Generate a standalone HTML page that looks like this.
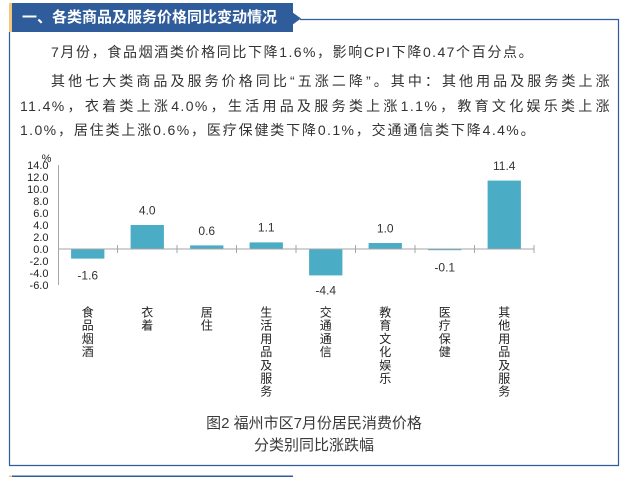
<!DOCTYPE html>
<html>
<head>
<meta charset="utf-8">
<style>
  html,body{margin:0;padding:0;background:#fff;}
  body{width:626px;height:477px;position:relative;overflow:hidden;
       font-family:"Liberation Sans","Noto Sans CJK SC",sans-serif;}
  .ln{position:absolute;font-size:14px;line-height:20px;height:20px;color:#333;
      white-space:nowrap;letter-spacing:1.4px;}
  .j{text-align:justify;text-align-last:justify;white-space:normal;overflow:hidden;}
  .cap{position:absolute;left:0;width:628px;text-align:center;font-size:15px;line-height:20px;color:#3a3a3a;}
</style>
</head>
<body>
<!-- header box -->
<div style="position:absolute;left:9px;top:3px;width:284px;height:29px;background:#2f5c9a;"></div>
<div style="position:absolute;left:9px;top:3px;width:3px;height:29px;background:#f6c67a;"></div>
<svg style="position:absolute;left:0;top:0" width="626" height="477">
  <polygon points="292,12 301,18.5 292,25" fill="#2f5c9a"/>
  <line x1="300" y1="19.5" x2="619" y2="19.5" stroke="#2f5c9a" stroke-width="1.2"/>
  <line x1="618.5" y1="19" x2="618.5" y2="466" stroke="#2f5c9a" stroke-width="1.2"/>
  <line x1="9.5" y1="32" x2="9.5" y2="466" stroke="#2f5c9a" stroke-width="1.2"/>
  <line x1="9" y1="465.5" x2="619" y2="465.5" stroke="#2f5c9a" stroke-width="1.2"/>
  <rect x="9" y="475.5" width="284" height="2" fill="#2f5c9a"/>
  <rect x="9" y="475.5" width="3" height="2" fill="#f6c67a"/>
</svg>
<div style="position:absolute;left:22px;top:7px;height:22px;line-height:22px;font-size:15px;font-weight:bold;color:#fff;white-space:nowrap;">一、各类商品及服务价格同比变动情况</div>

<!-- paragraph text -->
<div class="ln j" style="left:51px;top:42px;width:483px;">7月份，食品烟酒类价格同比下降1.6%，影响CPI下降0.47个百分点。</div>
<div class="ln j" style="left:51px;top:71px;width:560px;">其他七大类商品及服务价格同比“五涨二降”。其中：其他用品及服务类上涨</div>
<div class="ln j" style="left:20px;top:96px;width:591px;">11.4%，衣着类上涨4.0%，生活用品及服务类上涨1.1%，教育文化娱乐类上涨</div>
<div class="ln j" style="left:20px;top:120px;width:516px;">1.0%，居住类上涨0.6%，医疗保健类下降0.1%，交通通信类下降4.4%。</div>

<!-- chart -->
<svg style="position:absolute;left:0;top:0" width="626" height="477" font-family="Liberation Sans, Noto Sans CJK SC, sans-serif">
  <!-- y axis labels -->
  <g font-size="11" fill="#222" text-anchor="end">
    <text x="48.5" y="165" dy="0.36em">14.0</text>
    <text x="48.5" y="177" dy="0.36em">12.0</text>
    <text x="48.5" y="189" dy="0.36em">10.0</text>
    <text x="48.5" y="201" dy="0.36em">8.0</text>
    <text x="48.5" y="213" dy="0.36em">6.0</text>
    <text x="48.5" y="225" dy="0.36em">4.0</text>
    <text x="48.5" y="237" dy="0.36em">2.0</text>
    <text x="48.5" y="249" dy="0.36em">0.0</text>
    <text x="48.5" y="261" dy="0.36em">-2.0</text>
    <text x="48.5" y="273" dy="0.36em">-4.0</text>
    <text x="48.5" y="285" dy="0.36em">-6.0</text>
  </g>
  <text x="46.5" y="158" dy="0.36em" font-size="11" fill="#222" text-anchor="middle">%</text>

  <!-- bars -->
  <g fill="#4bacc6">
    <rect x="71.1" y="249" width="33.3" height="9.6"/>
    <rect x="130.6" y="225" width="33.3" height="24"/>
    <rect x="190.1" y="245.4" width="33.3" height="3.6"/>
    <rect x="249.6" y="242.4" width="33.3" height="6.6"/>
    <rect x="309.1" y="249" width="33.3" height="26.4"/>
    <rect x="368.6" y="243" width="33.3" height="6"/>
    <rect x="428.1" y="249" width="33.3" height="1.2"/>
    <rect x="487.6" y="180.6" width="33.3" height="68.4"/>
  </g>

  <!-- axes -->
  <line x1="58.5" y1="165" x2="58.5" y2="285" stroke="#a6a6a6" stroke-width="1"/>
  <line x1="58" y1="249" x2="534.5" y2="249" stroke="#a6a6a6" stroke-width="1"/>
  <g stroke="#a6a6a6" stroke-width="1">
    <line x1="117.5" y1="245" x2="117.5" y2="253"/>
    <line x1="177" y1="245" x2="177" y2="253"/>
    <line x1="236.5" y1="245" x2="236.5" y2="253"/>
    <line x1="296" y1="245" x2="296" y2="253"/>
    <line x1="355.5" y1="245" x2="355.5" y2="253"/>
    <line x1="415" y1="245" x2="415" y2="253"/>
    <line x1="474.5" y1="245" x2="474.5" y2="253"/>
    <line x1="534" y1="245" x2="534" y2="253"/>
  </g>

  <!-- data labels -->
  <g font-size="12" fill="#333" text-anchor="middle">
    <text x="87.75" y="275" dy="0.36em">-1.6</text>
    <text x="147.25" y="210" dy="0.36em">4.0</text>
    <text x="206.75" y="230.5" dy="0.36em">0.6</text>
    <text x="266.25" y="227" dy="0.36em">1.1</text>
    <text x="325.75" y="290" dy="0.36em">-4.4</text>
    <text x="385.25" y="228" dy="0.36em">1.0</text>
    <text x="444.75" y="267" dy="0.36em">-0.1</text>
    <text x="504.25" y="165.5" dy="0.36em">11.4</text>
  </g>

  <!-- category labels (vertical) -->
  <g font-size="12" fill="#222" text-anchor="middle" font-family="Noto Sans CJK SC, sans-serif">
    <text><tspan x="87.75" y="316.5">食</tspan><tspan x="87.75" y="329.7">品</tspan><tspan x="87.75" y="342.9">烟</tspan><tspan x="87.75" y="356.1">酒</tspan></text>
    <text><tspan x="147.25" y="316.5">衣</tspan><tspan x="147.25" y="329.7">着</tspan></text>
    <text><tspan x="206.75" y="316.5">居</tspan><tspan x="206.75" y="329.7">住</tspan></text>
    <text><tspan x="266.25" y="316.5">生</tspan><tspan x="266.25" y="329.7">活</tspan><tspan x="266.25" y="342.9">用</tspan><tspan x="266.25" y="356.1">品</tspan><tspan x="266.25" y="369.3">及</tspan><tspan x="266.25" y="382.5">服</tspan><tspan x="266.25" y="395.7">务</tspan></text>
    <text><tspan x="325.75" y="316.5">交</tspan><tspan x="325.75" y="329.7">通</tspan><tspan x="325.75" y="342.9">通</tspan><tspan x="325.75" y="356.1">信</tspan></text>
    <text><tspan x="385.25" y="316.5">教</tspan><tspan x="385.25" y="329.7">育</tspan><tspan x="385.25" y="342.9">文</tspan><tspan x="385.25" y="356.1">化</tspan><tspan x="385.25" y="369.3">娱</tspan><tspan x="385.25" y="382.5">乐</tspan></text>
    <text><tspan x="444.75" y="316.5">医</tspan><tspan x="444.75" y="329.7">疗</tspan><tspan x="444.75" y="342.9">保</tspan><tspan x="444.75" y="356.1">健</tspan></text>
    <text><tspan x="504.25" y="316.5">其</tspan><tspan x="504.25" y="329.7">他</tspan><tspan x="504.25" y="342.9">用</tspan><tspan x="504.25" y="356.1">品</tspan><tspan x="504.25" y="369.3">及</tspan><tspan x="504.25" y="382.5">服</tspan><tspan x="504.25" y="395.7">务</tspan></text>
  </g>
</svg>

<!-- caption -->
<div class="cap" style="top:414px;">图2 福州市区7月份居民消费价格</div>
<div class="cap" style="top:436px;">分类别同比涨跌幅</div>
</body>
</html>
